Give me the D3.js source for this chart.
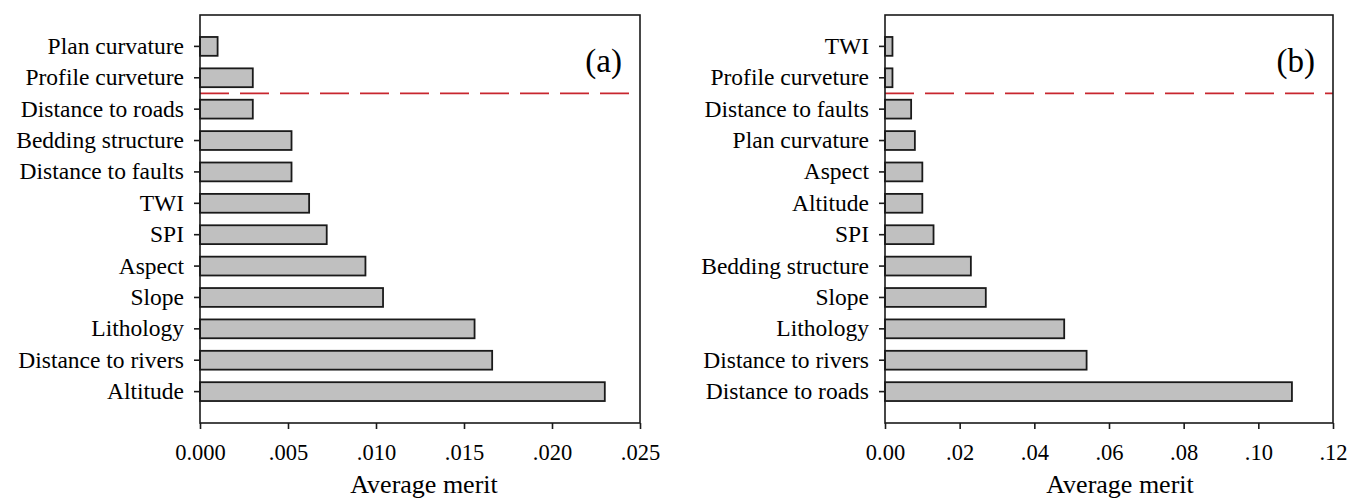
<!DOCTYPE html>
<html lang="en">
<head>
<meta charset="UTF-8">
<title>Average merit</title>
<script src="https://d3js.org/d3.v7.min.js"></script>
<style>
    body { margin: 0; background: #fff; }
    svg { display: block; }
    text { font-family: "Liberation Serif", "Times New Roman", serif; fill: #000; }
</style>
</head>
<body>
<script>
    // panel (a)
    const namesA = ["Plan curvature", "Profile curveture", "Distance to roads", "Bedding structure",
        "Distance to faults", "TWI", "SPI", "Aspect", "Slope", "Lithology", "Distance to rivers", "Altitude"];
    const meritA = [0.001, 0.003, 0.003, 0.0052, 0.0052, 0.0062, 0.0072, 0.0094, 0.0104, 0.0156, 0.0166, 0.023];
    const ticksA = [0, 0.005, 0.010, 0.015, 0.020, 0.025];

    // panel (b)
    const namesB = ["TWI", "Profile curveture", "Distance to faults", "Plan curvature", "Aspect", "Altitude",
        "SPI", "Bedding structure", "Slope", "Lithology", "Distance to rivers", "Distance to roads"];
    const meritB = [0.002, 0.002, 0.007, 0.008, 0.010, 0.010, 0.013, 0.023, 0.027, 0.048, 0.054, 0.109];
    const ticksB = [0, 0.02, 0.04, 0.06, 0.08, 0.10, 0.12];

    const width = 1361, height = 500;
    const svg = d3.select("body").append("svg")
        .attr("width", width)
        .attr("height", height);

    function panel(opt) {
        const g = svg.append("g");
        const x = d3.scaleLinear().domain([0, opt.max]).range([opt.left, opt.right]);
        const y = d3.scaleBand().domain(opt.names).range([15, 423])
            .paddingInner(0.4).paddingOuter(0.7);

        // bars
        g.selectAll("rect.bar")
            .data(opt.names.map((n, i) => ({ name: n, v: opt.values[i] })))
            .enter().append("rect")
            .attr("class", "bar")
            .attr("x", x(0))
            .attr("y", d => y(d.name))
            .attr("width", d => x(d.v) - x(0))
            .attr("height", y.bandwidth())
            .attr("fill", "#c0c0c0")
            .attr("stroke", "#1a1a1a")
            .attr("stroke-width", 1.8);

        // dashed cut-off line between 2nd and 3rd rows
        const yCut = (y(opt.names[1]) + y(opt.names[2]) + y.bandwidth()) / 2;
        g.append("line")
            .attr("x1", x(0)).attr("x2", opt.right)
            .attr("y1", yCut).attr("y2", yCut)
            .attr("stroke", "#c8262e")
            .attr("stroke-width", 1.7)
            .attr("stroke-dasharray", "29,11");

        // frame
        g.append("rect")
            .attr("x", opt.left).attr("y", 15)
            .attr("width", opt.right - opt.left).attr("height", 408)
            .attr("fill", "none")
            .attr("stroke", "#1a1a1a")
            .attr("stroke-width", 1.6);

        // y axis
        const yAxis = g.append("g")
            .attr("transform", `translate(${opt.left},0)`)
            .call(d3.axisLeft(y).tickSize(6).tickPadding(10));
        yAxis.select(".domain").remove();
        yAxis.selectAll("line").attr("stroke", "#1a1a1a").attr("stroke-width", 1.6);
        yAxis.selectAll("text").style("font-size", "23.5px")
            .attr("font-family", "Liberation Serif").attr("fill", "#000");

        // x axis
        const xAxis = g.append("g")
            .attr("transform", "translate(0,423)")
            .call(d3.axisBottom(x).tickValues(opt.ticks).tickSize(6).tickPadding(15)
                .tickFormat(d => d === 0 ? opt.zero : d3.format(opt.fmt)(d).replace(/^0/, "")));
        xAxis.select(".domain").remove();
        xAxis.selectAll("line").attr("stroke", "#1a1a1a").attr("stroke-width", 1.6);
        xAxis.selectAll("text").style("font-size", "22.5px")
            .attr("font-family", "Liberation Serif").attr("fill", "#000");

        g.append("text")
            .attr("x", opt.titleX).attr("y", 493)
            .attr("text-anchor", "middle")
            .style("font-size", "26px")
            .text("Average merit");

        g.append("text")
            .attr("x", opt.right - 18).attr("y", 72)
            .attr("text-anchor", "end")
            .style("font-size", "33px")
            .text(opt.tag);
    }

    panel({ names: namesA, values: meritA, ticks: ticksA, max: 0.025, left: 200, right: 640,
        fmt: ".3f", zero: "0.000", titleX: 424, tag: "(a)" });
    panel({ names: namesB, values: meritB, ticks: ticksB, max: 0.12, left: 885, right: 1333,
        fmt: ".2f", zero: "0.00", titleX: 1120, tag: "(b)" });
</script>
</body>
</html>
